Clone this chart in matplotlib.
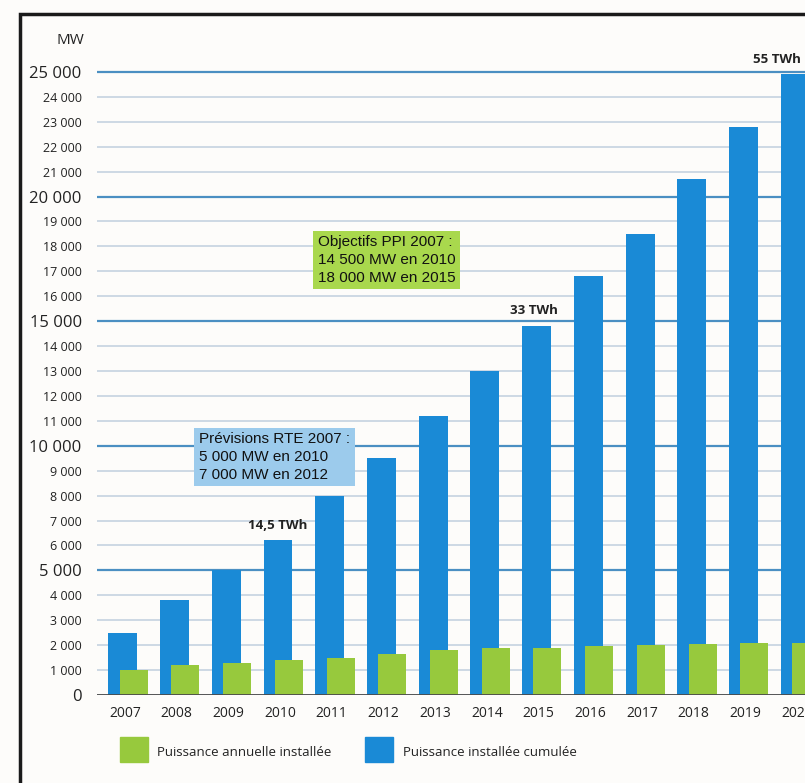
import matplotlib.pyplot as plt
import numpy as np
from matplotlib.patches import Rectangle

years = ["2007", "2008", "2009", "2010", "2011", "2012", "2013",
         "2014", "2015", "2016", "2017", "2018", "2019", "2020"]
cumulative_mw = [2500, 3800, 5000, 6200, 8000, 9500, 11200,
                 13000, 14800, 16800, 18500, 20700, 22800, 24900]
annual_mw = [1000, 1200, 1300, 1400, 1500, 1650, 1800,
             1900, 1900, 1950, 2000, 2050, 2080, 2100]
y_ticks = list(range(0, 25001, 1000))
twh_labels = {"2010": "14,5 TWh", "2015": "33 TWh", "2020": "55 TWh"}

BLUE = "#1a8ad6"
GREEN = "#97c93d"
BG = "#fdfcfa"
FONT = "Open Sans"

W, H = 805, 783
fig = plt.figure(figsize=(W / 100, H / 100), dpi=100, facecolor=BG)

# axes box in pixel coords: left 97, right 805, y=0 at 695, y=26000 at 47
ax = fig.add_axes([97 / W, (H - 695) / H, (W - 97) / W, (695 - 47) / H])
ax.set_facecolor(BG)
x = np.arange(len(years))
ax.set_xlim(-0.54, 13.15)
ax.set_ylim(0, 26000)

for v in y_ticks:
    major = v % 5000 == 0 and v > 0
    ax.axhline(v, color="#4b8fc2" if major else "#c9d6e2",
               lw=1.6 if major else 1.3, zorder=0)

ax.bar(x - 0.32, cumulative_mw, width=0.56, align="edge", color=BLUE, zorder=2)
ax.bar(x - 0.10, annual_mw, width=0.54, align="edge", color=GREEN, zorder=3)
ax.axhline(0, color="#4a4a4a", lw=2, zorder=4)

for sp in ax.spines.values():
    sp.set_visible(False)
ax.tick_params(length=0)
ax.set_xticks(x)
ax.set_xticklabels(years, fontfamily=FONT, fontsize=10, color="#222222")
ax.tick_params(axis="x", pad=8)
ax.set_yticks(y_ticks)
ax.set_yticklabels([f"{v:,}".replace(",", " ") for v in y_ticks],
                   fontfamily=FONT, color="#222222")
for v, lab in zip(y_ticks, ax.get_yticklabels()):
    lab.set_fontsize(12 if v % 5000 == 0 else 9)
ax.tick_params(axis="y", pad=11)

# the 2020 label sits left of its bar in the original
label_shift = {"2010": -0.04, "2015": -0.1, "2020": -0.4}
for yr, txt in twh_labels.items():
    i = years.index(yr)
    ax.text(i + label_shift[yr], cumulative_mw[i] + 350, txt, ha="center",
            va="bottom", fontfamily=FONT, fontweight="bold", fontsize=9.5,
            color="#222222", clip_on=False)

fig.text(70 / W, 1 - 40 / H, "MW", ha="center", va="center",
         fontfamily=FONT, fontsize=11, color="#222222")

# forecast boxes
fig.text(199 / W, 1 - 457 / H,
         "Prévisions RTE 2007 :\n5 000 MW en 2010\n7 000 MW en 2012",
         ha="left", va="center", fontfamily="Liberation Sans", fontsize=11,
         linespacing=1.35, color="#111111",
         bbox=dict(boxstyle="square,pad=0.3", fc="#9ccbec", ec="none"))
fig.text(318 / W, 1 - 260 / H,
         "Objectifs PPI 2007 :\n14 500 MW en 2010\n18 000 MW en 2015",
         ha="left", va="center", fontfamily="Liberation Sans", fontsize=11,
         linespacing=1.35, color="#111111",
         bbox=dict(boxstyle="square,pad=0.3", fc="#a9d84d", ec="none"))

# legend
fig.patches.append(Rectangle((120 / W, 1 - 762 / H), 28 / W, 25 / H,
                             transform=fig.transFigure, color=GREEN))
fig.text(157 / W, 1 - 752 / H, "Puissance annuelle installée", va="center",
         fontfamily=FONT, fontsize=9.5, color="#222222")
fig.patches.append(Rectangle((365 / W, 1 - 762 / H), 28 / W, 25 / H,
                             transform=fig.transFigure, color=BLUE))
fig.text(403 / W, 1 - 752 / H, "Puissance installée cumulée", va="center",
         fontfamily=FONT, fontsize=9.5, color="#222222")

# outer frame
fig.patches.append(Rectangle((20 / W, -0.05), 1.2, 1 - 14 / H + 0.05,
                             transform=fig.transFigure, fill=False,
                             ec="#1a1a1a", lw=2.5))

fig.savefig("out.png", dpi=100, facecolor=BG)
